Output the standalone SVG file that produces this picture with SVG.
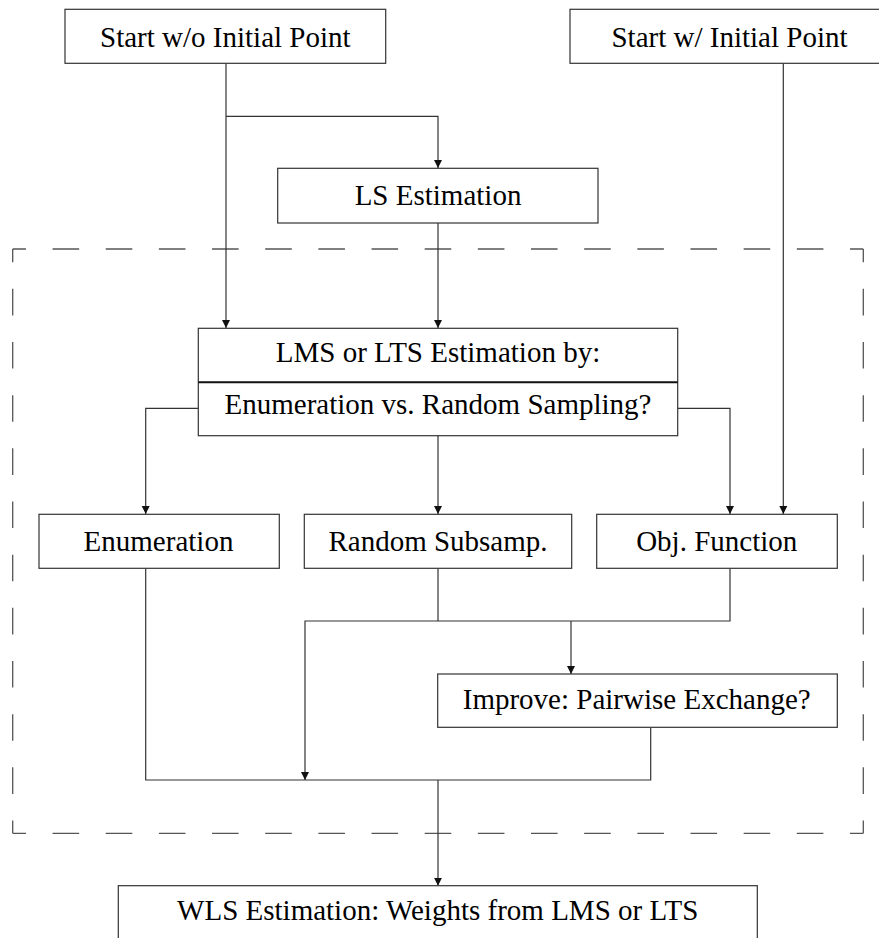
<svg xmlns="http://www.w3.org/2000/svg" width="879" height="938" viewBox="0 0 879 938">
<defs>
<style>
.box{fill:#fff;stroke:#333;stroke-width:1.2}
.t{font-family:'Liberation Serif','Times New Roman',serif;font-size:29px;fill:#000;text-anchor:middle}
.c{fill:none;stroke:#333;stroke-width:1.2}
.d{fill:none;stroke:#555;stroke-width:1.3;stroke-dasharray:26.58 26.58;stroke-dashoffset:13.29}
</style>
<marker id="ah" markerWidth="8" markerHeight="10" refX="8" refY="4" orient="auto" markerUnits="userSpaceOnUse" viewBox="0 0 8 8">
<path d="M0,0 L8,4 L0,8 Z" fill="#111"/>
</marker>
</defs>
<rect width="879" height="938" fill="#fff"/>
<g id="group-box">
<line class="d" x1="12.7" y1="249" x2="863.3" y2="249"/>
<line class="d" x1="12.7" y1="833.3" x2="863.3" y2="833.3"/>
<line class="d" x1="12.7" y1="249" x2="12.7" y2="833.3"/>
<line class="d" x1="863.3" y1="249" x2="863.3" y2="833.3"/>
</g>
<g id="connectors">
<path class="c" d="M226,63.3 V328" marker-end="url(#ah)"/>
<path class="c" d="M226,116.3 H438 V168" marker-end="url(#ah)"/>
<path class="c" d="M438,223 V328" marker-end="url(#ah)"/>
<path class="c" d="M783.3,63.3 V514" marker-end="url(#ah)"/>
<path class="c" d="M198.3,408.3 H145.7 V514" marker-end="url(#ah)"/>
<path class="c" d="M677.7,408.3 H730 V514" marker-end="url(#ah)"/>
<path class="c" d="M438,435.7 V514" marker-end="url(#ah)"/>
<path class="c" d="M438,568.3 V621"/>
<path class="c" d="M730,568.3 V621 H305 V780" marker-end="url(#ah)"/>
<path class="c" d="M571,621 V674" marker-end="url(#ah)"/>
<path class="c" d="M145.7,568.3 V780 H650.7 V727.3"/>
<path class="c" d="M438,780 V885.7" marker-end="url(#ah)"/>
</g>
<g id="start-wo">
<rect class="box" x="65" y="9.3" width="320.7" height="54"/>
<text class="t" x="225.3" y="46.5">Start w/o Initial Point</text>
</g>
<g id="start-w">
<rect class="box" x="570" y="9.3" width="320" height="54"/>
<text class="t" x="729.5" y="46.5">Start w/ Initial Point</text>
</g>
<g id="ls">
<rect class="box" x="277.7" y="168.3" width="320.3" height="54.7"/>
<text class="t" x="438" y="205">LS Estimation</text>
</g>
<g id="lms">
<rect class="box" x="198.3" y="328.3" width="479.4" height="107.4"/>
<line x1="198.3" y1="382.3" x2="677.7" y2="382.3" stroke="#111" stroke-width="2"/>
<text class="t" x="438" y="362">LMS or LTS Estimation by:</text>
<text class="t" x="438" y="414">Enumeration vs. Random Sampling?</text>
</g>
<g id="enumeration">
<rect class="box" x="39" y="514.3" width="240.3" height="54"/>
<text class="t" x="158.5" y="550.5">Enumeration</text>
</g>
<g id="random">
<rect class="box" x="304.3" y="514.3" width="267.4" height="54"/>
<text class="t" x="438" y="550.5">Random Subsamp.</text>
</g>
<g id="objfun">
<rect class="box" x="596.7" y="514.3" width="240.6" height="54"/>
<text class="t" x="716.7" y="550.5">Obj. Function</text>
</g>
<g id="improve">
<rect class="box" x="437.7" y="674" width="399.6" height="53.3"/>
<text class="t" x="636.7" y="708.5">Improve: Pairwise Exchange?</text>
</g>
<g id="wls">
<rect class="box" x="118.3" y="885.7" width="639" height="70"/>
<text class="t" x="437.7" y="920">WLS Estimation: Weights from LMS or LTS</text>
</g>
</svg>
